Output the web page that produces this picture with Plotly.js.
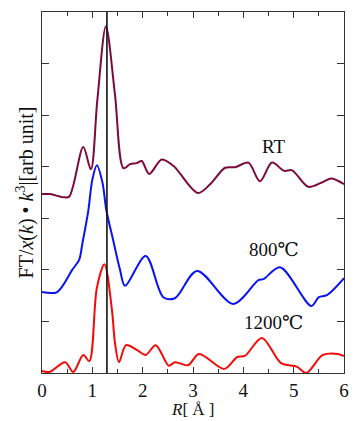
<!DOCTYPE html>
<html><head><meta charset="utf-8">
<script src="https://cdn.plot.ly/plotly-3.0.1.min.js"></script>
<style>html,body{margin:0;padding:0;background:#fff}#c{width:355px;height:421px}</style>
</head><body><div id="c"></div>
<script>
const rRT = [0,0.16,0.42,0.54,0.82,0.97,1.1,1.27,1.45,1.62,1.75,1.88,1.98,2.13,2.38,2.64,2.74,3.1,3.34,3.64,3.84,4.1,4.33,4.57,4.81,4.97,5.29,5.57,5.75,6];
const yRT = [3.47,3.47,3.41,3.42,4.38,3.95,5.3,6.72,5.4,3.97,4.05,4.07,4.11,3.86,4.14,3.99,3.87,3.49,3.66,3.98,3.99,4.08,3.72,4.08,3.92,3.93,3.61,3.7,3.77,3.66];
const r800 = [0,0.3,0.6,0.74,0.8,0.92,1.0,1.09,1.2,1.28,1.42,1.55,1.65,2.06,2.41,2.64,3.08,3.8,4.3,4.4,4.73,5.35,5.5,5.66,6];
const y800 = [1.57,1.57,2.0,2.2,2.5,3.15,3.75,4.03,3.7,3.15,2.55,2.0,1.69,2.27,1.47,1.45,1.98,1.34,1.8,1.82,2.05,1.30,1.47,1.51,1.84];
const r1200 = [0,0.15,0.46,0.62,0.82,0.94,1.09,1.24,1.39,1.45,1.53,1.67,1.88,2.06,2.26,2.52,2.64,2.9,3.12,3.62,3.88,4.03,4.37,4.75,5.07,5.25,5.58,5.88,6];
const y1200 = [0.04,0.02,0.21,0.02,0.35,0.23,1.65,2.11,1.22,0.58,0.21,0.54,0.45,0.35,0.54,0.14,0.21,0.15,0.37,0.08,0.31,0.33,0.68,0.19,0.12,0.0,0.35,0.37,0.33];
const refR = 1.29;
const labels = ["RT","800℃","1200℃"];
const labelPos = [[4.6,4.4],[4.6,2.4],[4.6,0.98]];
const xTicks = [0,1,2,3,4,5,6];
const xTitle = '<i>R</i>[ Å ]';
const yTitle = 'FT/<i>x</i>(<i>k</i>) • <i>k</i><sup>3</sup>|[arb unit]';

const serif = '"Liberation Serif", "Times New Roman", "DejaVu Serif", serif';
const mk = (x,y,c) => ({x:x,y:y,type:'scatter',mode:'lines',line:{color:c,width:2,shape:'spline',smoothing:0.9},hoverinfo:'skip'});
const data = [mk(rRT,yRT,'#7d0a3c'), mk(r800,y800,'#0a14f0'), mk(r1200,y1200,'#f50a0a')];

const ax = {showgrid:false, zeroline:false, showline:true, linecolor:'#333', linewidth:1.2, mirror:'ticks', ticks:'inside', tickcolor:'#333'};
const annots = labels.map((t,i)=>({x:labelPos[i][0], y:labelPos[i][1], text:t, showarrow:false, font:{size:19,family:serif,color:'#111'}}));
annots.push({xref:'paper', yref:'paper', x:0.5, y:-0.132, yanchor:'bottom', text:xTitle, showarrow:false, font:{size:17,family:serif,color:'#111'}});
const layout = {
  width:355, height:421, margin:{l:42,r:11,t:12,b:48},
  paper_bgcolor:'#fff', plot_bgcolor:'#fff', showlegend:false,
  font:{family:serif, color:'#111'},
  xaxis:Object.assign({}, ax, {range:[0,6], tickvals:xTicks, ticklen:6, tickfont:{size:19,family:serif},
    minor:{dtick:0.5, ticks:'inside', ticklen:4, tickcolor:'#333'}}),
  yaxis:Object.assign({}, ax, {range:[0,7], dtick:1, ticklen:7, showticklabels:false,
    title:{text:yTitle, font:{size:20,family:serif}, standoff:1}}),
  shapes:[{type:'line', xref:'x', yref:'paper', x0:refR, x1:refR, y0:0, y1:1, line:{color:'#111', width:1.6}}],
  annotations: annots
};
Plotly.newPlot('c', data, layout, {displayModeBar:false, staticPlot:true});
</script></body></html>
